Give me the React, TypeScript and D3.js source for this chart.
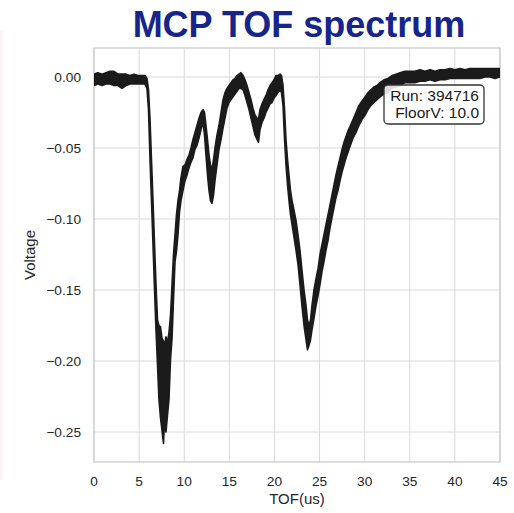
import React from 'react';
import * as d3 from 'd3';

// TOF trace: time (us) and the upper / lower edge of the noisy band (V)
const tofUs = [
	0, 0.44, 0.89, 1.33, 1.77, 2.22, 2.66, 3.10, 3.55, 3.99, 4.43, 4.88, 5.32, 5.65, 5.87, 6.04,
	6.21, 6.37, 6.54, 6.71, 6.87, 7.04, 7.20, 7.37, 7.54, 7.70, 7.81, 7.98, 8.15, 8.31, 8.48, 8.65,
	8.81, 8.98, 9.14, 9.31, 9.48, 9.64, 9.86, 10.09, 10.31, 10.53, 10.75, 10.97, 11.19, 11.42, 11.64, 11.86,
	12.08, 12.25, 12.41, 12.58, 12.75, 12.91, 13.08, 13.25, 13.41, 13.63, 13.86, 14.08, 14.30, 14.52, 14.74, 14.96,
	15.18, 15.41, 15.63, 15.85, 16.07, 16.29, 16.52, 16.74, 16.96, 17.18, 17.40, 17.62, 17.85, 18.07, 18.23, 18.40,
	18.62, 18.84, 19.06, 19.29, 19.51, 19.73, 19.95, 20.17, 20.39, 20.62, 20.78, 20.95, 21.12, 21.28, 21.45, 21.61,
	21.78, 21.95, 22.17, 22.39, 22.61, 22.83, 23.05, 23.28, 23.50, 23.66, 23.83, 24.00, 24.16, 24.38, 24.61, 24.83,
	25.05, 25.27, 25.49, 25.71, 25.94, 26.16, 26.38, 26.60, 26.82, 27.04, 27.27, 27.49, 27.71, 27.93, 28.15, 28.37,
	28.71, 29.04, 29.37, 29.70, 30.04, 30.37, 30.70, 31.04, 31.37, 31.70, 32.14, 32.59, 33.03, 33.47, 33.92, 34.47,
	35.03, 35.58, 36.13, 36.69, 37.24, 37.80, 38.35, 38.90, 39.46, 40.01, 40.57, 41.12, 41.68, 42.23, 42.78, 43.34,
	43.89, 44.45, 45.00,
];
const voltHigh = [
	0.002, 0.003, 0.002, 0.003, 0.004, 0.004, 0.002, 0.002, 0.002, 0.001, 0.002, 0.001, 0.001, 0.001, -0.001, -0.009,
	-0.030, -0.058, -0.087, -0.118, -0.146, -0.171, -0.175, -0.176, -0.184, -0.186, -0.189, -0.183, -0.187, -0.180, -0.168, -0.146,
	-0.125, -0.111, -0.097, -0.087, -0.080, -0.071, -0.063, -0.062, -0.058, -0.055, -0.050, -0.044, -0.039, -0.034, -0.029, -0.025,
	-0.023, -0.025, -0.034, -0.044, -0.055, -0.062, -0.065, -0.058, -0.050, -0.041, -0.034, -0.025, -0.016, -0.011, -0.008, -0.006,
	-0.004, -0.002, -0.001, 0.001, 0.002, 0.003, 0.001, -0.002, -0.006, -0.011, -0.016, -0.022, -0.027, -0.029, -0.030, -0.023,
	-0.019, -0.016, -0.013, -0.009, -0.006, -0.004, -0.002, 0.001, 0.001, 0.002, 0.001, -0.006, -0.023, -0.044, -0.058, -0.069,
	-0.080, -0.087, -0.094, -0.101, -0.111, -0.122, -0.136, -0.150, -0.161, -0.171, -0.175, -0.171, -0.161, -0.150, -0.142, -0.135,
	-0.125, -0.118, -0.111, -0.104, -0.097, -0.090, -0.083, -0.076, -0.069, -0.063, -0.057, -0.051, -0.046, -0.042, -0.038, -0.035,
	-0.030, -0.025, -0.020, -0.017, -0.014, -0.011, -0.009, -0.007, -0.006, -0.004, -0.002, -0.001, 0.001, 0.002, 0.003, 0.004,
	0.004, 0.004, 0.005, 0.004, 0.005, 0.004, 0.005, 0.005, 0.006, 0.005, 0.006, 0.005, 0.006, 0.006, 0.006, 0.006,
	0.006, 0.006, 0.006,
];
const voltLow = [
	-0.006, -0.005, -0.006, -0.005, -0.005, -0.006, -0.006, -0.008, -0.006, -0.005, -0.005, -0.005, -0.005, -0.005, -0.008, -0.023,
	-0.058, -0.087, -0.118, -0.150, -0.178, -0.203, -0.227, -0.240, -0.249, -0.258, -0.244, -0.250, -0.238, -0.227, -0.199, -0.184,
	-0.157, -0.130, -0.123, -0.111, -0.095, -0.087, -0.080, -0.073, -0.069, -0.064, -0.060, -0.057, -0.051, -0.048, -0.043, -0.037,
	-0.032, -0.041, -0.055, -0.069, -0.080, -0.087, -0.089, -0.083, -0.073, -0.062, -0.051, -0.044, -0.036, -0.029, -0.022, -0.018,
	-0.016, -0.014, -0.012, -0.010, -0.008, -0.008, -0.009, -0.013, -0.018, -0.023, -0.029, -0.035, -0.041, -0.044, -0.046, -0.037,
	-0.032, -0.029, -0.025, -0.022, -0.019, -0.018, -0.015, -0.013, -0.011, -0.009, -0.011, -0.020, -0.044, -0.062, -0.076, -0.087,
	-0.097, -0.104, -0.113, -0.122, -0.132, -0.146, -0.161, -0.175, -0.185, -0.192, -0.189, -0.185, -0.178, -0.170, -0.161, -0.154,
	-0.146, -0.137, -0.130, -0.122, -0.115, -0.106, -0.099, -0.092, -0.085, -0.080, -0.073, -0.067, -0.062, -0.057, -0.053, -0.049,
	-0.043, -0.039, -0.034, -0.030, -0.027, -0.023, -0.020, -0.018, -0.016, -0.014, -0.012, -0.011, -0.008, -0.007, -0.006, -0.004,
	-0.004, -0.004, -0.003, -0.003, -0.002, -0.003, -0.002, -0.002, -0.001, -0.001, -0.001, -0.001, -0.001, -0.001, -0.001, 0.000,
	0.000, -0.001, 0.000,
];

const xTicks = [0, 5, 10, 15, 20, 25, 30, 35, 40, 45];
const yTicks = [0, -0.05, -0.1, -0.15, -0.2, -0.25];
const infoLines = ['Run: 394716', 'FloorV: 10.0'];

const W = 514;
const H = 513;
const plot = { left: 94, right: 500, top: 48, bottom: 462 };
const font = '"Liberation Sans", Arial, Helvetica, sans-serif';
const ink = '#262626';

const App = () => {
	const x = d3.scaleLinear().domain([0, 45]).range([plot.left, plot.right]);
	const y = d3.scaleLinear().domain([-0.2711, 0.0204]).range([plot.bottom, plot.top]);
	const fmt = d3.format('.2f');

	const band = d3
		.area<number>()
		.x(i => x(tofUs[i]))
		.y0(i => y(voltLow[i]))
		.y1(i => y(voltHigh[i]));
	const idx = d3.range(tofUs.length);

	const boxRight = plot.right - 16;
	const boxTop = plot.top + 37;

	return (
		<svg width={W} height={H} style={{ position: 'absolute', left: 0, top: 0 }} fontFamily={font}>
			<defs>
				<linearGradient id='edge' x1='0' x2='1' y1='0' y2='0'>
					<stop offset='0' stopColor='#f3dada' stopOpacity={0.35} />
					<stop offset='1' stopColor='#ffffff' stopOpacity={0} />
				</linearGradient>
				<clipPath id='plotClip'>
					<rect x={plot.left} y={plot.top} width={plot.right - plot.left} height={plot.bottom - plot.top} />
				</clipPath>
			</defs>
			<rect width={W} height={H} fill='white' />
			<rect x={0} y={30} width={8} height={450} fill='url(#edge)' />

			<text x={299} y={37} textAnchor='middle' fontSize={36} fontWeight='bold' fill='#16248c'>
				MCP TOF spectrum
			</text>

			{/* grid */}
			<g stroke='#d9d9d9' strokeWidth={1}>
				{xTicks.map(t => <line key={'gx' + t} x1={x(t)} x2={x(t)} y1={plot.top} y2={plot.bottom} />)}
				{yTicks.map(t => <line key={'gy' + t} x1={plot.left} x2={plot.right} y1={y(t)} y2={y(t)} />)}
			</g>
			<rect
				x={plot.left}
				y={plot.top}
				width={plot.right - plot.left}
				height={plot.bottom - plot.top}
				fill='none'
				stroke='#cccccc'
				strokeWidth={1.3}
			/>

			{/* trace */}
			<g clipPath='url(#plotClip)'>
				<path d={band(idx) || ''} fill='#1b1b1b' stroke='#1b1b1b' strokeWidth={1.6} strokeLinejoin='round' />
			</g>

			{/* tick labels */}
			<g fontSize={13.7} fill={ink}>
				{xTicks.map(t => (
					<text key={'tx' + t} x={x(t)} y={486} textAnchor='middle'>{t}</text>
				))}
				{yTicks.map(t => (
					<text key={'ty' + t} x={81} y={y(t) + 5} textAnchor='end'>{fmt(t)}</text>
				))}
			</g>
			<text x={(plot.left + plot.right) / 2} y={504} textAnchor='middle' fontSize={15} fill={ink}>TOF(us)</text>
			<text
				transform={`translate(35 ${(plot.top + plot.bottom) / 2}) rotate(-90)`}
				textAnchor='middle'
				fontSize={15}
				fill={ink}
			>
				Voltage
			</text>

			{/* run info box */}
			<g>
				<rect x={boxRight - 100} y={boxTop} width={100} height={39} rx={4} fill='white' fillOpacity={0.85} stroke='#333' strokeWidth={1.3} />
				{infoLines.map((s, i) => (
					<text key={s} x={boxRight - 5} y={boxTop + 16 + i * 16.5} textAnchor='end' fontSize={15.5} fill='#1a1a1a'>
						{s}
					</text>
				))}
			</g>
		</svg>
	);
};

export default App;
